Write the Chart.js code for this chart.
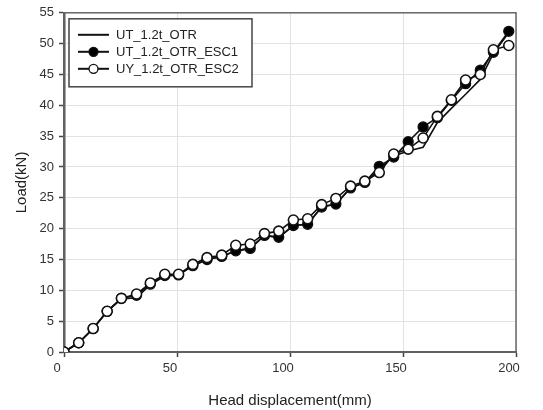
<!DOCTYPE html>
<html>
<head>
<meta charset="utf-8">
<script src="https://cdn.jsdelivr.net/npm/chart.js@4.4.1/dist/chart.umd.min.js"></script>
<style>
  html, body { margin: 0; padding: 0; background: #ffffff; }
  #wrap { width: 543px; height: 410px; position: relative; }
</style>
</head>
<body>
<div id="wrap"><canvas id="c" width="543" height="410"></canvas></div>
<script>
// ---- data ----
const seriesNames = ["UT_1.2t_OTR", "UT_1.2t_OTR_ESC1", "UY_1.2t_OTR_ESC2"];
const xTicks = [0, 50, 100, 150, 200];
const yTicks = [0, 5, 10, 15, 20, 25, 30, 35, 40, 45, 50, 55];

const displacement = [0, 6.5, 12.9, 19.1, 25.4, 32.1, 38.2, 44.6, 50.7, 57.0, 63.3, 69.8,
  76.0, 82.4, 88.7, 95.0, 101.5, 107.8, 114.0, 120.3, 126.8, 133.1, 139.5, 145.9,
  152.3, 158.9, 165.2, 171.4, 177.7, 184.2, 190.0, 196.8];

const loadOTR = [0, 1.5, 3.8, 6.6, 8.6, 8.8, 10.9, 12.3, 12.5, 14.0, 15.0, 15.5,
  16.4, 16.8, 18.9, 18.6, 20.5, 20.7, 23.5, 24.0, 26.6, 27.5, 29.6, 31.8,
  32.6, 33.2, 37.2, 39.5, 41.8, 44.2, 48.4, 51.8];

const loadESC1 = [0, 1.5, 3.8, 6.6, 8.7, 9.2, 11.0, 12.4, 12.5, 14.0, 15.0, 15.5,
  16.4, 16.8, 18.9, 18.6, 20.5, 20.7, 23.5, 24.0, 26.6, 27.5, 30.1, 31.6,
  34.1, 36.5, 38.0, 40.8, 43.5, 45.7, 48.6, 52.0];

const loadESC2 = [0, 1.5, 3.8, 6.6, 8.7, 9.4, 11.2, 12.6, 12.6, 14.2, 15.3, 15.7,
  17.3, 17.5, 19.2, 19.6, 21.4, 21.6, 23.9, 24.9, 26.9, 27.7, 29.1, 32.1,
  32.9, 34.7, 38.2, 40.9, 44.1, 45.0, 49.0, 49.7];

const toPts = ys => displacement.map((x, i) => ({ x: x, y: ys[i] }));

const FONT = "'Liberation Sans', Arial, sans-serif";

// Legend drawn inside the plot area with a box, line + marker samples
const boxedLegend = {
  id: 'boxedLegend',
  afterDraw(chart) {
    const ctx = chart.ctx;
    const a = chart.chartArea;
    const bx = a.left + 5, by = a.top + 6, bw = 183, bh = 68;
    ctx.save();
    ctx.fillStyle = '#ffffff';
    ctx.fillRect(bx, by, bw, bh);
    ctx.strokeStyle = '#444444';
    ctx.lineWidth = 1.5;
    ctx.strokeRect(bx, by, bw, bh);
    const rows = [16, 33, 50];
    const order = [0, 1, 2];
    order.forEach((di, k) => {
      const ds = chart.data.datasets[di];
      const cy = by + rows[k];
      ctx.strokeStyle = '#111111';
      ctx.lineWidth = 2;
      ctx.beginPath();
      ctx.moveTo(bx + 9, cy);
      ctx.lineTo(bx + 40, cy);
      ctx.stroke();
      if (ds.pointRadius > 0) {
        ctx.beginPath();
        ctx.arc(bx + 24.5, cy, 4.5, 0, Math.PI * 2);
        ctx.fillStyle = ds.pointBackgroundColor;
        ctx.fill();
        ctx.lineWidth = 1.3;
        ctx.strokeStyle = '#111111';
        ctx.stroke();
      }
      ctx.fillStyle = '#222222';
      ctx.font = '13px ' + FONT;
      ctx.textBaseline = 'middle';
      ctx.textAlign = 'left';
      ctx.fillText(ds.label, bx + 47, cy + 1);
    });
    ctx.restore();
  }
};

// Frame around the plot
const frame = {
  id: 'frame',
  beforeDatasetsDraw(chart) {
    const ctx = chart.ctx;
    const a = chart.chartArea;
    ctx.save();
    ctx.strokeStyle = '#666666';
    ctx.lineWidth = 1.5;
    ctx.strokeRect(a.left, a.top, a.right - a.left, a.bottom - a.top);
    ctx.restore();
  }
};

new Chart(document.getElementById('c'), {
  type: 'line',
  data: {
    datasets: [
      {
        label: seriesNames[0],
        data: toPts(loadOTR),
        borderColor: '#111111',
        borderWidth: 1.6,
        pointRadius: 0,
        pointBackgroundColor: '#111111',
        tension: 0,
        fill: false,
        order: 2
      },
      {
        label: seriesNames[1],
        data: toPts(loadESC1),
        borderColor: '#111111',
        borderWidth: 1.6,
        pointRadius: 5,
        pointBorderWidth: 1.3,
        pointBackgroundColor: '#000000',
        pointBorderColor: '#111111',
        tension: 0,
        fill: false,
        order: 1
      },
      {
        label: seriesNames[2],
        data: toPts(loadESC2),
        borderColor: '#111111',
        borderWidth: 1.6,
        pointRadius: 5,
        pointBorderWidth: 1.6,
        pointBackgroundColor: '#ffffff',
        pointBorderColor: '#111111',
        tension: 0,
        fill: false,
        order: 0
      }
    ]
  },
  options: {
    responsive: false,
    animation: false,
    layout: { padding: { left: 0, right: 27, top: 12, bottom: 0 } },
    plugins: {
      legend: { display: false },
      tooltip: { enabled: false }
    },
    scales: {
      x: {
        type: 'linear',
        min: xTicks[0],
        max: xTicks[xTicks.length - 1],
        afterBuildTicks: axis => { axis.ticks = xTicks.map(v => ({ value: v })); },
        afterFit: s => { s.height = 58; },
        ticks: { font: { size: 13, family: FONT }, color: '#333333', padding: 4, labelOffset: -7, maxRotation: 0 },
        grid: { color: '#e2e2e2', lineWidth: 1, tickLength: 5, tickColor: '#444444', tickWidth: 1.5 },
        border: { display: true, color: '#555555', width: 2 },
        title: { display: true, text: 'Head displacement(mm)', font: { size: 15, family: FONT }, color: '#222222', padding: { top: 4, bottom: 0 } }
      },
      y: {
        type: 'linear',
        min: yTicks[0],
        max: yTicks[yTicks.length - 1],
        afterBuildTicks: axis => { axis.ticks = yTicks.map(v => ({ value: v })); },
        afterFit: s => { s.width = 64; },
        ticks: { font: { size: 13, family: FONT }, color: '#333333', padding: 5 },
        grid: { color: '#e2e2e2', lineWidth: 1, tickLength: 5, tickColor: '#444444', tickWidth: 1.5 },
        border: { display: true, color: '#555555', width: 2.5 },
        title: { display: true, text: 'Load(kN)', font: { size: 15, family: FONT }, color: '#222222', padding: { top: 13, bottom: 0 } }
      }
    }
  },
  plugins: [frame, boxedLegend]
});
</script>
</body>
</html>
